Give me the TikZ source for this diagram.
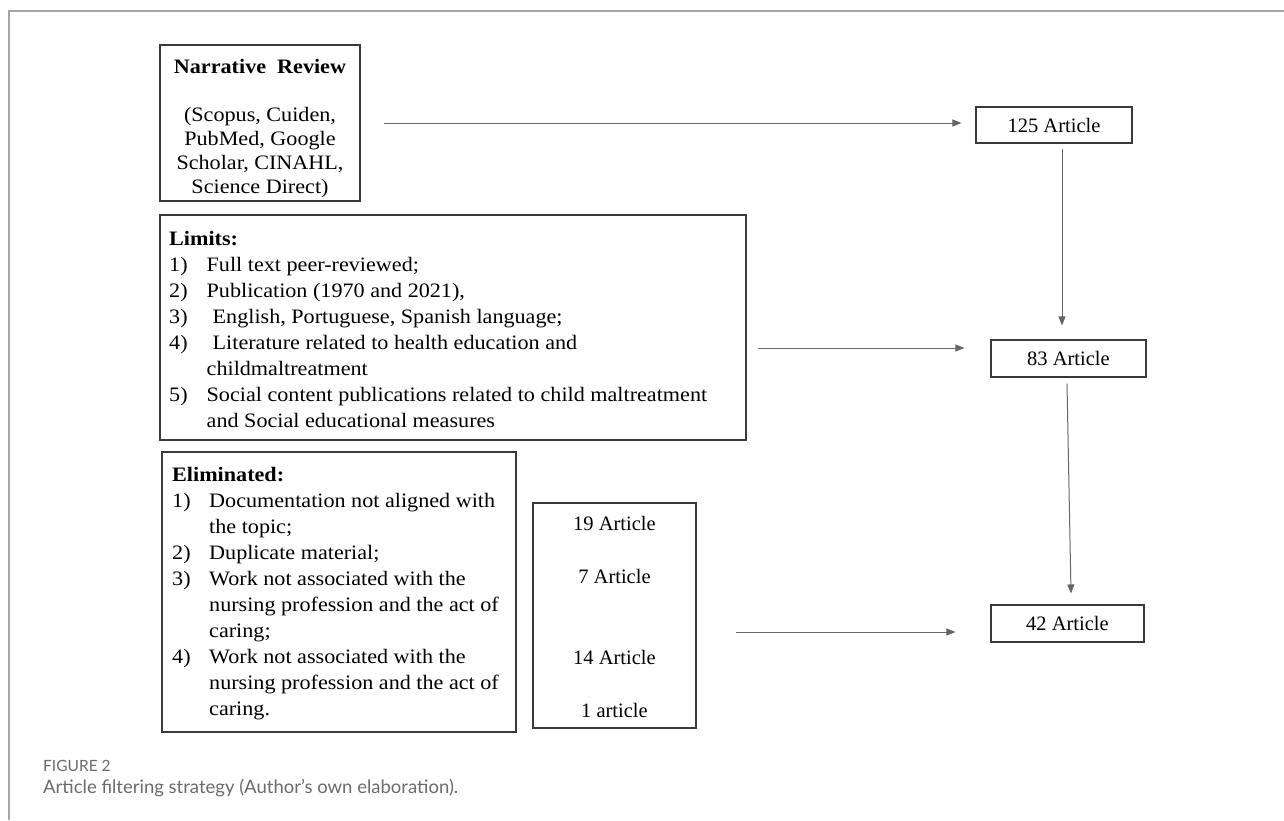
\documentclass[tikz,border=0pt]{standalone}
\usepackage{fontspec}
\setmainfont{Liberation Serif}
\newfontfamily\widefont{Liberation Serif}[FakeStretch=1.08]
\newfontfamily\capfont{Lato}
\usetikzlibrary{arrows.meta}
\definecolor{framegray}{HTML}{A6A6A6}
\definecolor{capgray}{HTML}{6A6A6A}
\definecolor{boxline}{HTML}{3A3A3A}
\definecolor{arrowline}{HTML}{666666}

\begin{document}
\begin{tikzpicture}[x=1pt,y=-1pt,
  panel/.style={draw=boxline, line width=1.1pt, rectangle, inner sep=0pt},
  flow/.style={draw=arrowline, line width=1pt, -{Triangle[length=9pt,width=7pt]}},
  listtext/.style={font=\widefont\fontsize{20.5}{26}\selectfont, inner sep=0pt},
  counttext/.style={font=\fontsize{20.5}{26.8}\selectfont},
  captext/.style={text=capgray, inner sep=0pt, anchor=base west},
]
\useasboundingbox (0,0) rectangle (1284,820);

% page frame
\draw[framegray, line width=1.5pt] (9,820) -- (9,11) -- (1284,11);

% source box
\node[panel, minimum width=200pt, minimum height=156pt] (nar) at (260,123) {};
\node[align=center, inner sep=0pt, font=\widefont\fontsize{20.5}{24}\selectfont] (nartxt) at (260,128.5)
  {\textbf{Narrative\ \ Review}\\[24pt](Scopus, Cuiden,\\PubMed, Google\\Scholar, CINAHL,\\Science Direct)};

% limits box
\node[panel, minimum width=586pt, minimum height=225pt] (lim) at (453,327.5) {};
\node[listtext, anchor=base west] (limtxt) at (169,245)
  {\begin{tabular}[t]{@{}p{37.5pt}@{}l@{}}
   \multicolumn{2}{@{}l}{\textbf{Limits:}}\\
   1) & Full text peer-reviewed;\\
   2) & Publication (1970 and 2021),\\
   3) & \hspace{6pt}English, Portuguese, Spanish language;\\
   4) & \hspace{6pt}Literature related to health education and\\
      & childmaltreatment\\
   5) & Social content publications related to child maltreatment\\
      & and Social educational measures
   \end{tabular}};

% eliminated box
\node[panel, minimum width=354pt, minimum height=280pt] (elim) at (339,592) {};
\node[listtext, anchor=base west] (elimtxt) at (172,481)
  {\begin{tabular}[t]{@{}p{37pt}@{}l@{}}
   \multicolumn{2}{@{}l}{\textbf{Eliminated:}}\\
   1) & Documentation not aligned with\\
      & the topic;\\
   2) & Duplicate material;\\
   3) & Work not associated with the\\
      & nursing profession and the act of\\
      & caring;\\
   4) & Work not associated with the\\
      & nursing profession and the act of\\
      & caring.
   \end{tabular}};

% counts of eliminated articles
\node[panel, minimum width=163pt, minimum height=225pt] (cnt) at (614.5,615.5) {};
\node[counttext, align=center, inner sep=0pt] (cnttxt) at (614.5,617)
  {19 Article\\[26.8pt]7 Article\\[53.6pt]14 Article\\[26.8pt]1 article};

% article totals
\node[panel, minimum width=156pt, minimum height=36pt, font=\fontsize{20.5}{24}\selectfont] (a125) at (1054,125) {125 Article};
\node[panel, minimum width=155pt, minimum height=37pt, font=\fontsize{20.5}{24}\selectfont] (a83) at (1068.5,358.5) {83 Article};
\node[panel, minimum width=153pt, minimum height=37pt, font=\fontsize{20.5}{24}\selectfont] (a42) at (1067.5,623.5) {42 Article};

% connectors
\draw[flow] ([xshift=23pt]nar.east) -- ([xshift=-14pt]nar.east -| a125.west);
\draw[flow] ([shift={(8pt,-5pt)}]a125.south) -- ([shift={(-6.5pt,14pt)}]a83.north);
\draw[flow] ([shift={(-1.5pt,-6pt)}]a83.south) -- ([shift={(3.5pt,11pt)}]a42.north);
\draw[flow] ([shift={(11pt,-20.5pt)}]lim.east) -- ([shift={(-26pt,10.5pt)}]a83.west);
\draw[flow] ([shift={(39pt,-16.5pt)}]cnt.east) -- ([shift={(-35pt,-8.5pt)}]a42.west);

% caption
\node[captext, font=\capfont\fontsize{15.5}{18}\selectfont] (figlabel) at (43,771) {FIGURE 2};
\node[captext, font=\capfont\fontsize{18.5}{22}\selectfont] (figcap) at (43,793) {Article filtering strategy (Author’s own elaboration).};
\end{tikzpicture}
\end{document}
